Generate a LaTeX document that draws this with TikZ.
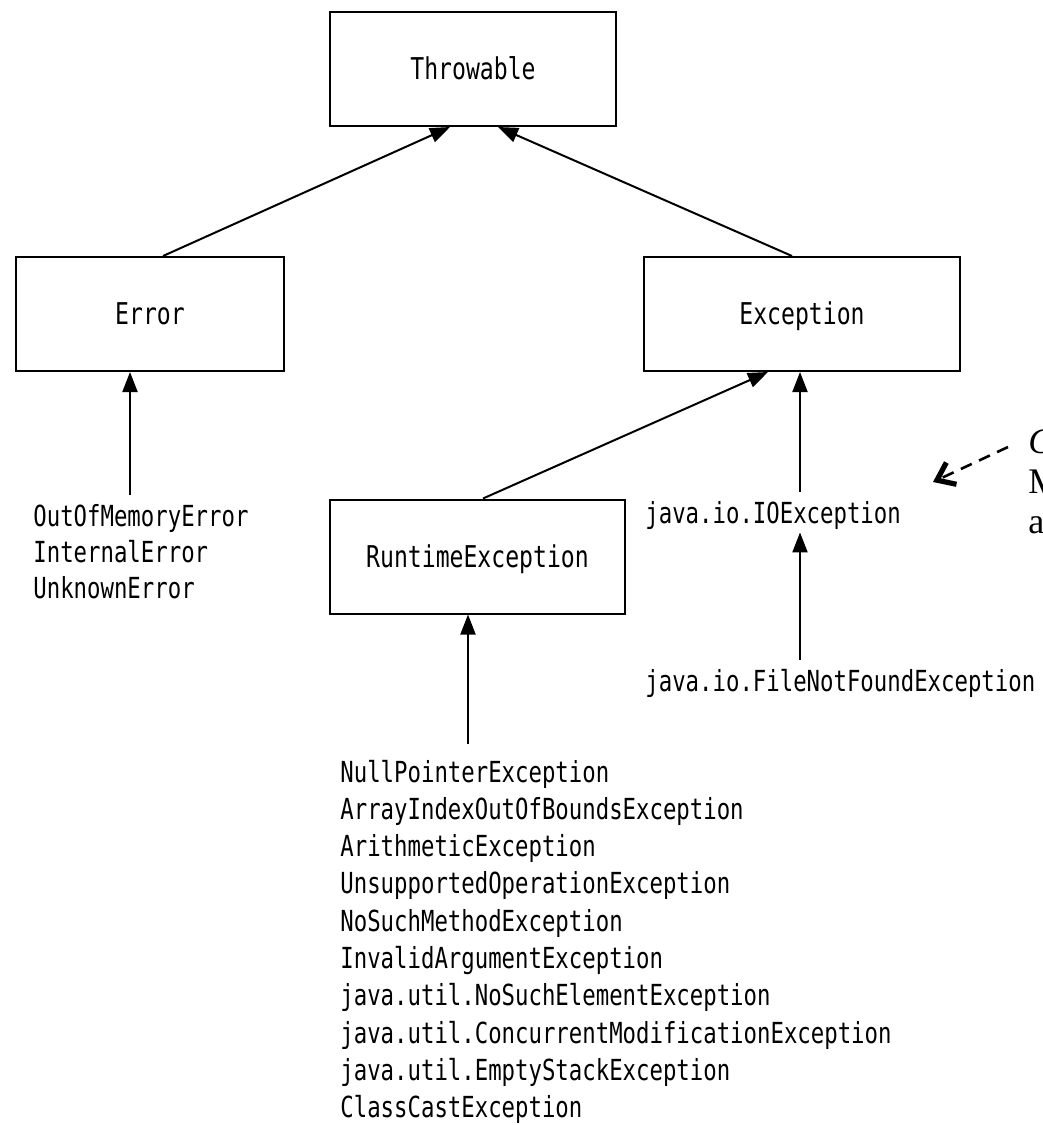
\documentclass[tikz,border=0pt]{standalone}
\usepackage{fontspec}
\newfontfamily\jmono[FakeStretch=0.77]{DejaVu Sans Mono}
\newfontfamily\noteserif{Liberation Serif}
\usetikzlibrary{arrows.meta,calc}
\begin{document}
\begin{tikzpicture}[x=0.5pt,y=-0.5pt,
 cls/.style={draw, line width=1pt, inner sep=0pt, text height=10.5pt, text depth=0pt,
   font=\jmono\fontsize{15}{17}\selectfont, minimum height=57pt},
 lbl/.style={inner sep=0pt, anchor=base west, font=\jmono\fontsize{14.5}{17}\selectfont,
   text height=11pt, text depth=3.5pt},
 lst/.style={inner sep=0pt, anchor=base west, font=\jmono\fontsize{14.5}{17}\selectfont},
 inh/.style={line width=1pt, -{Triangle[length=10pt,width=7.5pt]}},
 note/.style={inner sep=0pt, anchor=base west, font=\noteserif\fontsize{18}{20}\selectfont},
 ptr/.style={line width=1.3pt, dash pattern=on 6pt off 4pt,
   -{Straight Barb[length=8pt,width=12pt,line width=2.6pt]}}]
\useasboundingbox (0,0) rectangle (1043,1125);

% class boxes
\node[cls, minimum width=143pt]   (thr) at (473,69)      {Throwable};
\node[cls, minimum width=134pt]   (err) at (150,314)     {Error};
\node[cls, minimum width=158pt]   (exc) at (802,314)     {Exception};
\node[cls, minimum width=147.5pt] (rt)  at (477.5,556.5) {RuntimeException};

% plain class names
\node[lst] (errl) at (33,526) {\vtop{\baselineskip=18pt
  \hbox{OutOfMemoryError}\hbox{InternalError}\hbox{UnknownError}}};
\node[lst] (rtl) at (340,782) {\vtop{\baselineskip=18.65pt
  \hbox{NullPointerException}
  \hbox{ArrayIndexOutOfBoundsException}
  \hbox{ArithmeticException}
  \hbox{UnsupportedOperationException}
  \hbox{NoSuchMethodException}
  \hbox{InvalidArgumentException}
  \hbox{java.util.NoSuchElementException}
  \hbox{java.util.ConcurrentModificationException}
  \hbox{java.util.EmptyStackException}
  \hbox{ClassCastException}}};
\node[lbl] (io)  at (645,523) {java.io.IOException};
\node[lbl] (fnf) at (645,691) {java.io.FileNotFoundException};

% cut-off note at the right edge
\node[note] (nc) at (1028,453) {\textit{C}};
\node[note] (nm) at (1028,493) {M};
\node[note] (na) at (1028,533) {a};

\coordinate (vx) at (800,0);
\coordinate (ptrtip) at (933,482);

% inheritance connectors
\draw[inh] ([xshift=6.5pt]err.north) -- ([xshift=-11.5pt]thr.south);
\draw[inh] ([xshift=-5pt]exc.north) -- ([xshift=12.5pt]thr.south);
\draw[inh] ([xshift=2.75pt]rt.north) -- ([xshift=-17pt]exc.south);
\draw[inh] ($(io.north -| vx)+(0,-9)$) -- (exc.south -| vx);
\draw[inh] ($(fnf.north -| vx)+(0,-9)$) -- ($(io.south -| vx)+(0,2)$);
\draw[inh] ($(errl.north west)+(97,-9)$) -- ($(err.south)+(-20,0)$);
\draw[inh] ($(rtl.north west)+(128,-15)$) -- ($(rt.south)+(-9.5,0)$);

% dashed pointer
\draw[ptr] ($(nc.base west)+(-20,-6)$) -- (ptrtip);
\end{tikzpicture}
\end{document}
